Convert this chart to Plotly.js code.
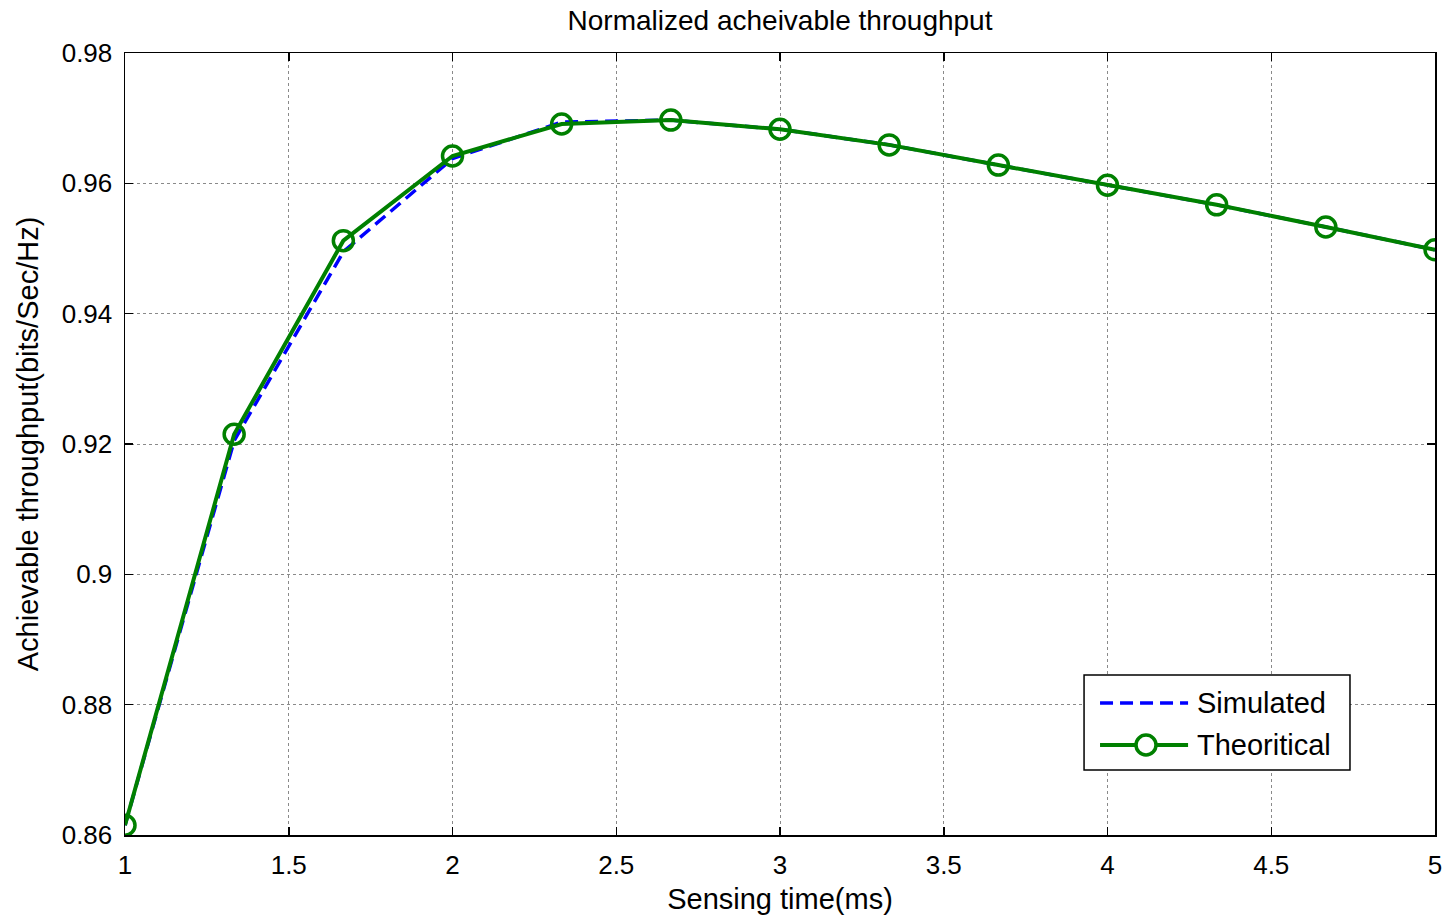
<!DOCTYPE html>
<html>
<head>
<meta charset="utf-8">
<script src="https://cdn.plot.ly/plotly-3.0.1.min.js"></script>
<style>html,body{margin:0;padding:0;background:#fff;}#chart{width:1449px;height:919px;}</style>
</head>
<body>
<div id="chart"></div>
<script>
// Sensing time (ms)
const sensingTime = [1, 1.3333, 1.6667, 2, 2.3333, 2.6667, 3, 3.3333, 3.6667, 4, 4.3333, 4.6667, 5];
// Normalized achievable throughput
const simulated   = [0.8615, 0.9205, 0.9495, 0.9638, 0.9694, 0.9697, 0.9683, 0.9659, 0.9628, 0.9597, 0.9567, 0.9533, 0.9498];
const theoretical = [0.8615, 0.9215, 0.9512, 0.9642, 0.9691, 0.9697, 0.9683, 0.9659, 0.9628, 0.9597, 0.9567, 0.9533, 0.9498];

const seriesNames = ['Simulated', 'Theoritical'];
const xTicks = [1, 1.5, 2, 2.5, 3, 3.5, 4, 4.5, 5];
const yTicks = [0.86, 0.88, 0.9, 0.92, 0.94, 0.96, 0.98];

const font = {family: 'Liberation Sans, Arial, sans-serif', color: '#000'};
const BLUE = '#0000ff', GREEN = '#008000';
const simLine = {color: BLUE, width: 3.5, dash: '13px,7px'};
const theoLine = {color: GREEN, width: 4};

const traces = [
  {x: sensingTime, y: simulated, name: seriesNames[0], mode: 'lines', line: simLine},
  {
    x: sensingTime, y: theoretical, name: seriesNames[1], mode: 'lines+markers', line: theoLine,
    marker: {symbol: 'circle-open', size: 20, color: GREEN, line: {width: 3.5, color: GREEN}}
  }
];

const axisCommon = {
  showline: true, linecolor: '#000', linewidth: 1.5, mirror: 'ticks',
  ticks: 'inside', ticklen: 8, tickwidth: 1.5, tickcolor: '#000',
  showgrid: true, gridcolor: '#8a8a8a', griddash: 'dot', gridwidth: 1,
  zeroline: false, tickfont: Object.assign({size: 26}, font)
};

// Boxed legend in the lower right of the plot area
const W = 1310, H = 782;           // plot area size in px
const px = v => v / W, py = v => v / H;
const box = {x0: 0.7321, x1: 0.9351, y0: 0.0831, y1: 0.2046};
const rows = [0.1688, 0.1151];
const sampleX0 = 0.7443, sampleX1 = 0.8115, markX = 0.7794, textX = 0.8170;
const r = 10;

const shapes = [
  {type: 'rect', xref: 'paper', yref: 'paper', x0: box.x0, x1: box.x1, y0: box.y0, y1: box.y1,
   line: {color: '#000', width: 1.5}, fillcolor: '#fff', layer: 'above'},
  {type: 'line', xref: 'paper', yref: 'paper', x0: sampleX0, x1: sampleX1, y0: rows[0], y1: rows[0],
   line: simLine, layer: 'above'},
  {type: 'line', xref: 'paper', yref: 'paper', x0: sampleX0, x1: sampleX1, y0: rows[1], y1: rows[1],
   line: theoLine, layer: 'above'},
  {type: 'circle', xref: 'paper', yref: 'paper', x0: markX - px(r), x1: markX + px(r),
   y0: rows[1] - py(r), y1: rows[1] + py(r), line: {color: GREEN, width: 3.5}, fillcolor: '#fff', layer: 'above'}
];

const annotations = seriesNames.map((name, i) => ({
  xref: 'paper', yref: 'paper', x: textX, y: rows[i], xanchor: 'left', yanchor: 'middle',
  text: name, showarrow: false, font: Object.assign({size: 29}, font)
}));

const layout = {
  width: 1449, height: 919,
  margin: {l: 125, r: 14, t: 53, b: 84},
  paper_bgcolor: '#fff', plot_bgcolor: '#fff',
  font: font,
  title: {text: 'Normalized acheivable throughput', font: Object.assign({size: 28}, font),
          x: 0.5, xref: 'paper', xanchor: 'center', y: 0.978, yanchor: 'middle'},
  xaxis: Object.assign({}, axisCommon, {
    range: [1, 5], tickvals: xTicks, ticktext: xTicks.map(String), ticklabelstandoff: 6,
    title: {text: 'Sensing time(ms)', font: Object.assign({size: 29}, font), standoff: 10}
  }),
  yaxis: Object.assign({}, axisCommon, {
    range: [0.86, 0.98], tickvals: yTicks, ticktext: yTicks.map(v => String(v)), ticklabelstandoff: 6,
    title: {text: 'Achievable throughput(bits/Sec/Hz)', font: Object.assign({size: 29}, font), standoff: 14}
  }),
  showlegend: false,
  shapes: shapes,
  annotations: annotations
};

Plotly.newPlot('chart', traces, layout, {displayModeBar: false, staticPlot: true});
</script>
</body>
</html>
